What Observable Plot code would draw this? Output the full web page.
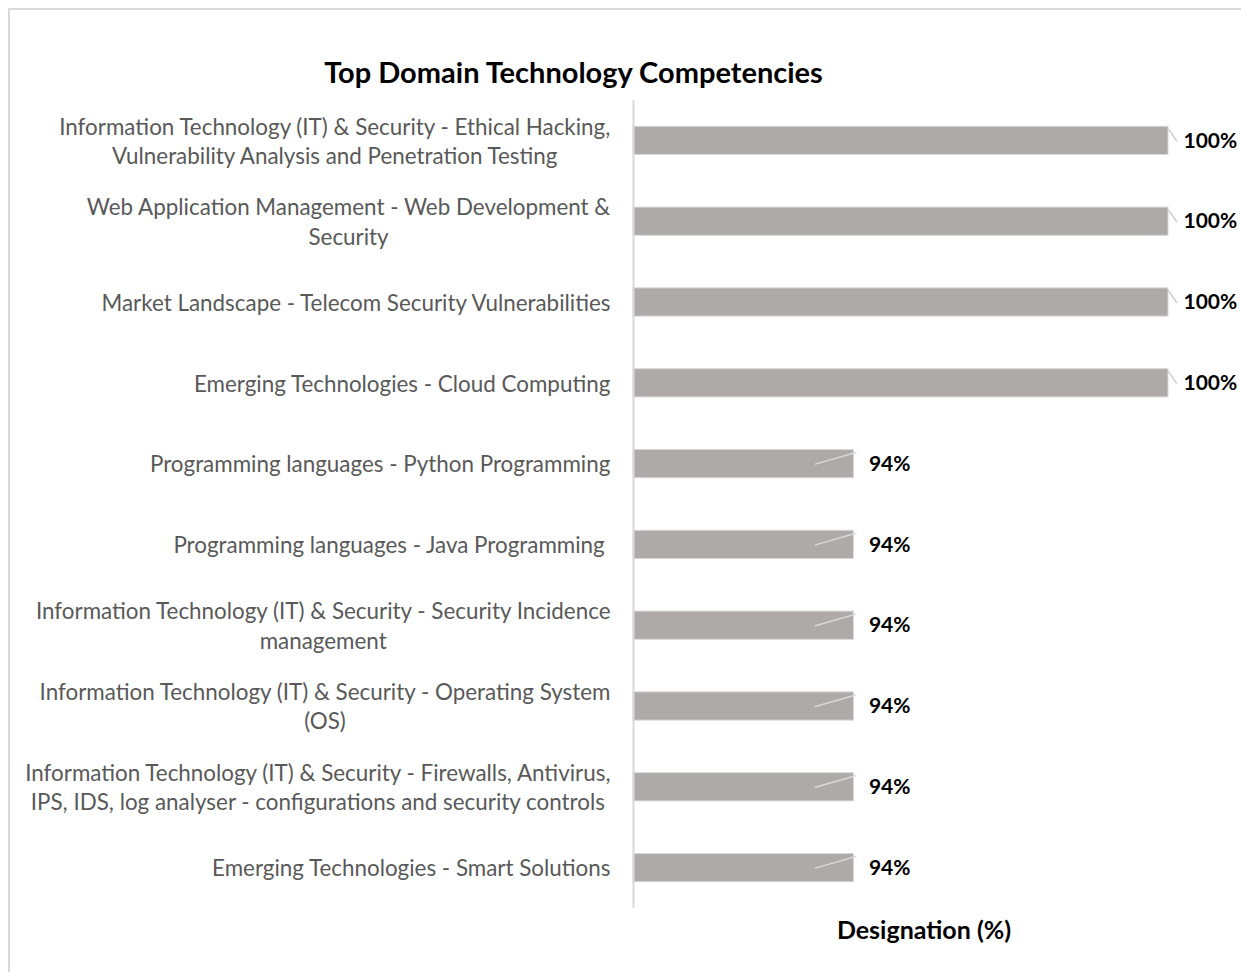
<!DOCTYPE html>
<html>
<head>
<meta charset="utf-8">
<script src="https://cdn.jsdelivr.net/npm/d3@7"></script>
<script src="https://cdn.jsdelivr.net/npm/@observablehq/plot@0.6"></script>
<style>
  html, body { margin: 0; padding: 0; background: #fff; }
  #wrap { position: relative; width: 1241px; height: 972px; overflow: hidden; font-family: Lato, "Open Sans", sans-serif; }
  #border { position: absolute; left: 8px; top: 8px; width: 1300px; height: 1000px; border-top: 2px solid #d9d9d9; border-left: 2px solid #d9d9d9; }
  #title { position: relative; height: 95px; box-sizing: border-box; padding-top: 55px; padding-right: 94px; text-align: center; font-size: 29px; font-weight: bold; line-height: 34px; color: #000; }
  #chart { position: relative; }
</style>
</head>
<body>
<div id="wrap">
  <div id="border"></div>
  <div id="title">Top Domain Technology Competencies</div>
  <div id="chart"></div>
</div>
<script>
const categories = [
  "Information Technology (IT) & Security - Ethical Hacking,\nVulnerability Analysis and Penetration Testing",
  "Web Application Management - Web Development &\nSecurity",
  "Market Landscape - Telecom Security Vulnerabilities",
  "Emerging Technologies - Cloud Computing",
  "Programming languages - Python Programming",
  "Programming languages - Java Programming ",
  "Information Technology (IT) & Security - Security Incidence\nmanagement",
  "Information Technology (IT) & Security - Operating System\n(OS)",
  "Information Technology (IT) & Security - Firewalls, Antivirus,\nIPS, IDS, log analyser - configurations and security controls",
  "Emerging Technologies - Smart Solutions"
];
const values = [100, 100, 100, 100, 94.12, 94.12, 94.12, 94.12, 94.12, 94.12];
const valueLabels = ["100%", "100%", "100%", "100%", "94%", "94%", "94%", "94%", "94%", "94%"];
const xDomain = [90, 100];
const axisTitle = "Designation (%)";

const data = categories.map((c, i) => ({cat: c, value: values[i], label: valueLabels[i]}));
const leaderShape = {draw(context, l) { context.moveTo(0, 0); context.lineTo(0, -l); }};

const svg = Plot.plot({
  width: 1241,
  height: 877,
  marginLeft: 633,
  marginRight: 73,
  marginTop: 5,
  marginBottom: 64,
  x: {domain: xDomain, axis: null},
  y: {domain: categories, axis: null, paddingInner: 0.65, paddingOuter: 0.325, round: false},
  length: {type: "identity"},
  style: {fontFamily: "Lato, 'Open Sans', sans-serif", background: "transparent"},
  marks: [
    Plot.barX(data, {x1: xDomain[0], x2: "value", y: "cat", fill: "#AEAAAA", stroke: "#d9d9d9", strokeWidth: 1}),
    Plot.ruleX(data, {x: "value", y: "cat", stroke: "#c8c8c8", strokeWidth: 1.5, insetTop: -5, insetBottom: -5}),
    // leader lines of the data labels
    Plot.vector(data, {
      filter: d => d.value < 100,
      x: d => d.value - 0.72, y: "cat",
      length: 42, rotate: 74, anchor: "start",
      stroke: "#d9d9d9", strokeWidth: 1.5, shape: leaderShape
    }),
    Plot.vector(data, {
      filter: d => d.value === 100,
      x: d => d.value + 0.15, y: "cat",
      length: 14, rotate: 146, anchor: "end",
      stroke: "#d0cece", strokeWidth: 1.5, shape: leaderShape
    }),
    Plot.ruleX([xDomain[0]], {stroke: "#d9d9d9", strokeWidth: 2}),
    Plot.text(data, {
      y: "cat", text: "cat", frameAnchor: "left", textAnchor: "end", dx: -23, dy: -1,
      fontSize: 22.4, fill: "#595959", lineHeight: 1.3
    }),
    Plot.text(data, {
      x: "value", y: "cat", text: "label", textAnchor: "start", dx: 15,
      fontSize: 21, fontWeight: "bold", fill: "#000"
    }),
    Plot.text([axisTitle], {
      text: d => d, frameAnchor: "bottom", lineAnchor: "middle", dx: 23, dy: 22,
      fontSize: 25, fontWeight: "bold", fill: "#000"
    })
  ]
});
document.getElementById("chart").appendChild(svg);

// centre the lines of each category label within its own block (right edge kept)
const labelGroup = svg.querySelectorAll('g[aria-label="text"]')[0];
if (labelGroup) {
  labelGroup.querySelectorAll("text").forEach(t => {
    const w = t.getBBox().width;
    t.setAttribute("text-anchor", "middle");
    const tr = t.getAttribute("transform") || "";
    t.setAttribute("transform", tr + ` translate(${-w / 2},0)`);
  });
}
</script>
</body>
</html>
